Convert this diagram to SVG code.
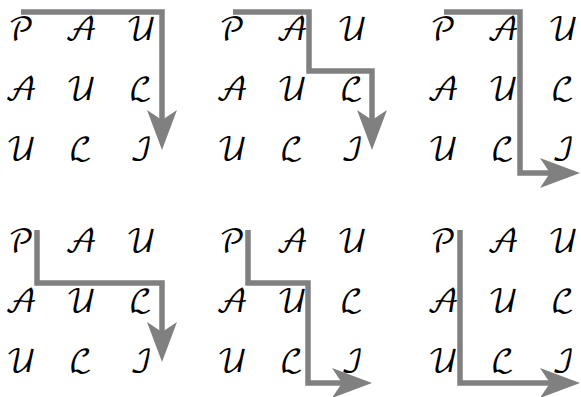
<svg xmlns="http://www.w3.org/2000/svg" xmlns:xlink="http://www.w3.org/1999/xlink" width="581" height="397" viewBox="0 0 581 397">
<style>
.lt{font-family:"DejaVu Math TeX Gyre","DejaVu Serif",serif;font-size:31px;fill:#000;text-anchor:middle}
.cn{fill:none;stroke:#808080;stroke-width:5.5;stroke-linejoin:miter;stroke-linecap:butt;marker-end:url(#ah)}
</style>
<defs>
<marker id="ah" viewBox="0 0 40 30" refX="10" refY="15" markerWidth="40" markerHeight="30" markerUnits="userSpaceOnUse" orient="auto">
<path d="M40,15 L0,0 L10,15 L0,30 Z" fill="#808080"/>
</marker>
<g id="grid">
<text class="lt" x="21" y="40">𝒫</text><text class="lt" x="81" y="40">𝒜</text><text class="lt" x="141" y="40">𝒰</text>
<text class="lt" x="21" y="100">𝒜</text><text class="lt" x="81" y="100">𝒰</text><text class="lt" x="141" y="100">ℒ</text>
<text class="lt" x="21" y="160">𝒰</text><text class="lt" x="81" y="160">ℒ</text><text class="lt" x="141" y="160">ℐ</text>
</g>
</defs>
<g id="panel1"><use xlink:href="#grid" x="0" y="0"/></g>
<g id="panel2"><use xlink:href="#grid" x="211" y="0"/></g>
<g id="panel3"><use xlink:href="#grid" x="422" y="0"/></g>
<g id="panel4"><use xlink:href="#grid" x="0" y="212"/></g>
<g id="panel5"><use xlink:href="#grid" x="211" y="212"/></g>
<g id="panel6"><use xlink:href="#grid" x="422" y="212"/></g>
<g id="connectors">
<path class="cn" d="M21,12 H162 V120"/>
<path class="cn" d="M233,12 H309 V71 H372 V120"/>
<path class="cn" d="M444,12 H520 V173 H550"/>
<path class="cn" d="M37,230 V283 H162 V332"/>
<path class="cn" d="M248,230 V283 H308 V383 H342"/>
<path class="cn" d="M460,230 V383 H550"/>
</g>
</svg>
